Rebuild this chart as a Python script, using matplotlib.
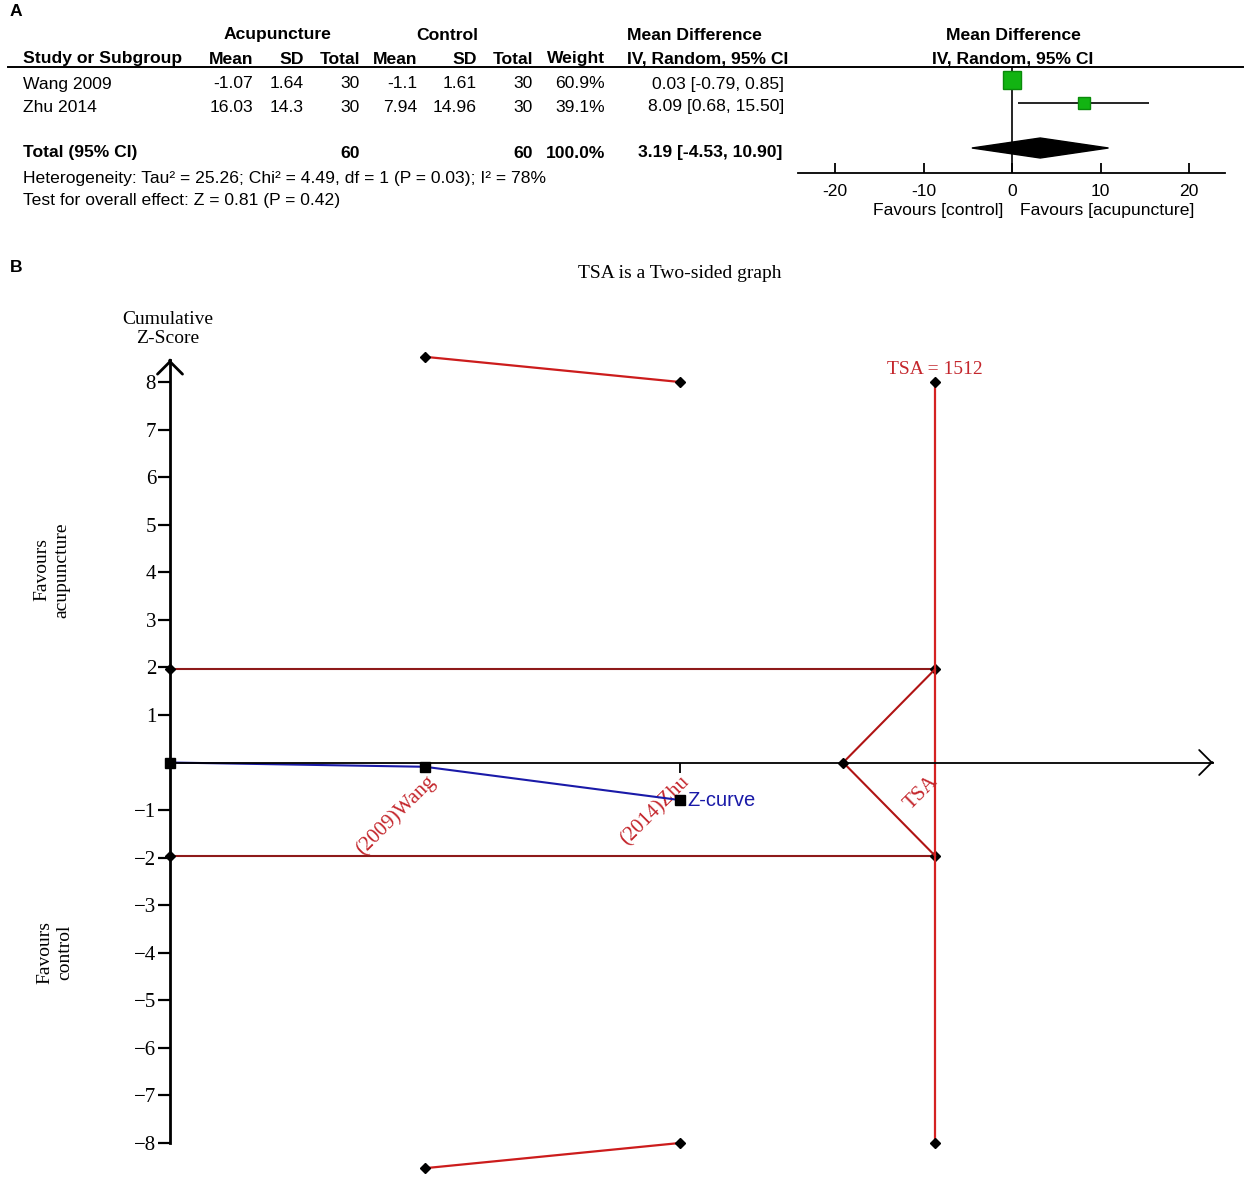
import numpy as np
import matplotlib.pyplot as plt
from matplotlib.lines import Line2D

# ---- panel A data (forest plot) ----
studies = ["Wang 2009", "Zhu 2014"]
acu_mean = [-1.07, 16.03]
acu_sd = [1.64, 14.3]
acu_n = [30, 30]
ctl_mean = [-1.1, 7.94]
ctl_sd = [1.61, 14.96]
ctl_n = [30, 30]
weight = [60.9, 39.1]
md = [0.03, 8.09]
md_lo = [-0.79, 0.68]
md_hi = [0.85, 15.50]
total_n = [60, 60]
total_md = [3.19, -4.53, 10.90]
heterogeneity = "Heterogeneity: Tau² = 25.26; Chi² = 4.49, df = 1 (P = 0.03); I² = 78%"
overall = "Test for overall effect: Z = 0.81 (P = 0.42)"
forest_ticks = [-20, -10, 0, 10, 20]

# ---- panel B data (TSA) ----
tsa_labels = ["(2009)Wang", "(2014)Zhu"]
tsa_x = [0, 1, 2]
z_curve = [0, -0.09, -0.79]
upper_bound = [8.53, 8.0]
lower_bound = [-8.53, -8.0]
conv_z = 1.96
tsa_pos = 3
tsa_z = 8
futility_x = 2.64
tsa_value = 1512

W, H = 1248, 1187
fig = plt.figure(figsize=(W / 100, H / 100), dpi=100)

def fx(x):
    return x / W

def fy(y):
    return 1 - y / H

sans = "Liberation Sans"
serif = "Liberation Serif"
fs = 12.6

def t(x, y, s, ha="right", bold=False, **kw):
    fig.text(fx(x), fy(y), s, ha=ha, va="center", fontsize=fs, family=sans,
             fontweight="bold" if bold else "normal", **kw)

# ---- panel A: table ----
t(10, 12, "A", ha="left", bold=True, )
t(278, 35, "Acupuncture", ha="center", bold=True)
t(447, 35, "Control", ha="center", bold=True)
t(694, 35, "Mean Difference", ha="center", bold=True)
t(1013, 35, "Mean Difference", ha="center", bold=True)
t(23, 59, "Study or Subgroup", ha="left", bold=True)
for xx, s in zip([253, 304, 360, 417, 477, 533, 605],
                 ["Mean", "SD", "Total", "Mean", "SD", "Total", "Weight"]):
    t(xx, 59, s, bold=True)
t(708, 59, "IV, Random, 95% CI", ha="center", bold=True)
t(1013, 59, "IV, Random, 95% CI", ha="center", bold=True)
fig.add_artist(Line2D([fx(8), fx(1243)], [fy(67), fy(67)], color="black", lw=1.4))

row_y = [84, 107]
for i, yy in enumerate(row_y):
    t(23, yy, studies[i], ha="left")
    t(253, yy, str(acu_mean[i]))
    t(304, yy, str(acu_sd[i]))
    t(360, yy, str(acu_n[i]))
    t(417, yy, str(ctl_mean[i]))
    t(477, yy, str(ctl_sd[i]))
    t(533, yy, str(ctl_n[i]))
    t(605, yy, f"{weight[i]:.1f}%")
    t(784, yy, f"{md[i]:.2f} [{md_lo[i]:.2f}, {md_hi[i]:.2f}]")

t(23, 153, "Total (95% CI)", ha="left", bold=True)
t(360, 153, str(total_n[0]), bold=True)
t(533, 153, str(total_n[1]), bold=True)
t(605, 153, f"{sum(weight):.1f}%", bold=True)
t(782, 153, f"{total_md[0]:.2f} [{total_md[1]:.2f}, {total_md[2]:.2f}]", bold=True)
t(23, 178, heterogeneity, ha="left")
t(23, 201, overall, ha="left")

# ---- panel A: forest axes ----
fl, fr, ft, fb = 798, 1225, 60, 200
axf = fig.add_axes([fx(fl), fy(fb), (fr - fl) / W, (fb - ft) / H])
upx = 8.85
axf.set_xlim(-20 - (835 - fl) / upx, 20 + (fr - 1189) / upx)
axf.set_ylim(fb, ft)
axf.patch.set_visible(False)
for sp in ["top", "right", "left"]:
    axf.spines[sp].set_visible(False)
axf.spines["bottom"].set_position(("data", 173))
axf.spines["bottom"].set_linewidth(1.3)
axf.set_yticks([])
axf.set_xticks(forest_ticks)
axf.set_xticklabels([str(v) for v in forest_ticks], family=sans, fontsize=fs)
axf.tick_params(axis="x", direction="in", length=7, width=1.3, pad=8)
axf.vlines(0, 67, 173, color="black", lw=1.2)
for i, yy in enumerate(row_y):
    yy = yy - 4
    axf.hlines(yy, md_lo[i], md_hi[i], color="black", lw=1.2)
    axf.plot(md[i], yy, "s", color="#12b412", mec="#0a8a0a",
             markersize=18 * weight[i] / weight[0] * 0.72)
dy = 148
axf.fill([total_md[1], total_md[0], total_md[2], total_md[0]],
         [dy, dy - 10, dy, dy + 10], color="black")
t(938, 211, "Favours [control]", ha="center")
t(1107, 211, "Favours [acupuncture]", ha="center")

# ---- panel B: TSA ----
t(10, 268, "B", ha="left", bold=True)
fig.text(fx(680), fy(273), "TSA is a Two-sided graph", ha="center", va="center",
         family=serif, fontsize=14)
fig.text(fx(168), fy(329), "Cumulative\nZ-Score", ha="center", va="center",
         family=serif, fontsize=14, linespacing=1.2)
fig.text(fx(52), fy(570), "Favours\nacupuncture", ha="center", va="center",
         family=serif, fontsize=14, rotation=90, linespacing=1.2)
fig.text(fx(55), fy(952), "Favours\ncontrol", ha="center", va="center",
         family=serif, fontsize=14, rotation=90, linespacing=1.2)

bl, br, bt, bb = 100, 1235, 295, 1180
x0, xu, z0, zu = 170, 255, 762.5, 47.56
ax = fig.add_axes([fx(bl), fy(bb), (br - bl) / W, (bb - bt) / H])
ax.set_xlim((bl - x0) / xu, (br - x0) / xu)
ax.set_ylim((z0 - bb) / zu, (z0 - bt) / zu)
ax.patch.set_visible(False)
for sp in ["top", "right"]:
    ax.spines[sp].set_visible(False)
x_end = 4.09
y_end = 8.47
ax.spines["left"].set_position(("data", 0))
ax.spines["left"].set_bounds(-8, y_end)
ax.spines["left"].set_linewidth(2.0)
ax.spines["bottom"].set_position(("data", 0))
ax.spines["bottom"].set_bounds(0, x_end)
ax.spines["bottom"].set_linewidth(1.3)
ax.annotate("", xy=(0, y_end), xytext=(0, y_end - 0.02),
            arrowprops=dict(arrowstyle="->,head_length=0.3,head_width=0.3",
                            lw=2.0, color="black", mutation_scale=30,
                            shrinkA=0, shrinkB=0))
ax.annotate("", xy=(x_end, 0), xytext=(x_end - 0.002, 0),
            arrowprops=dict(arrowstyle="->,head_length=0.3,head_width=0.3",
                            lw=1.3, color="black", mutation_scale=30,
                            shrinkA=0, shrinkB=0))

yt = [k for k in range(-8, 9) if k != 0]
ax.set_yticks(yt)
ax.set_yticklabels([str(k).replace("-", "\u2212") for k in yt], family=serif, fontsize=15)
ax.tick_params(axis="y", direction="out", length=9, width=1.6, pad=1)
ax.set_xticks([1, 2, 3])
ax.set_xticklabels(tsa_labels + [""], family=serif, fontsize=15, color="#c4262c",
                   rotation=45, ha="right", rotation_mode="anchor")
ax.tick_params(axis="x", direction="out", length=7, width=1.3, pad=0)

red = "#cc1c1c"
dark_red = "#8e1a1a"
mk = dict(marker="D", color="black", markersize=5.5, linestyle="none")

# conventional boundaries
ax.plot([0, tsa_pos], [conv_z, conv_z], color=dark_red, lw=1.5)
ax.plot([0, tsa_pos], [-conv_z, -conv_z], color=dark_red, lw=1.5)
ax.plot([0, tsa_pos, 0, tsa_pos], [conv_z, conv_z, -conv_z, -conv_z], **mk)
# futility wedge
ax.plot([tsa_pos, futility_x, tsa_pos], [conv_z, 0, -conv_z], color="#b01414", lw=1.5)
ax.plot([futility_x], [0], **mk)
# alpha-spending boundaries
ax.plot(tsa_x[1:], upper_bound, color=red, lw=1.6)
ax.plot(tsa_x[1:], lower_bound, color=red, lw=1.6)
ax.plot(tsa_x[1:] * 2, upper_bound + lower_bound, **mk)
# TSA required information size line
ax.plot([tsa_pos, tsa_pos], [tsa_z, -tsa_z], color="#d42222", lw=1.6)
ax.plot([tsa_pos, tsa_pos], [tsa_z, -tsa_z], **mk)
ax.text(tsa_pos, 8.27, f"TSA = {tsa_value}", ha="center", va="center",
        family=serif, fontsize=14, color="#c4262c")
ax.text(2.975, -0.2, "TSA", rotation=45, ha="right", va="top",
        rotation_mode="anchor", family=serif, fontsize=15, color="#c4262c")

# Z-curve
ax.plot(tsa_x, z_curve, color="#1a1aa8", lw=1.5)
ax.plot(tsa_x, z_curve, "s", color="black", markersize=6.5)
ax.text(tsa_x[-1] + 0.03, z_curve[-1], "Z-curve", ha="left", va="center",
        family=sans, fontsize=14.5, color="#1a1aa8")

fig.savefig("out.png", dpi=100)
